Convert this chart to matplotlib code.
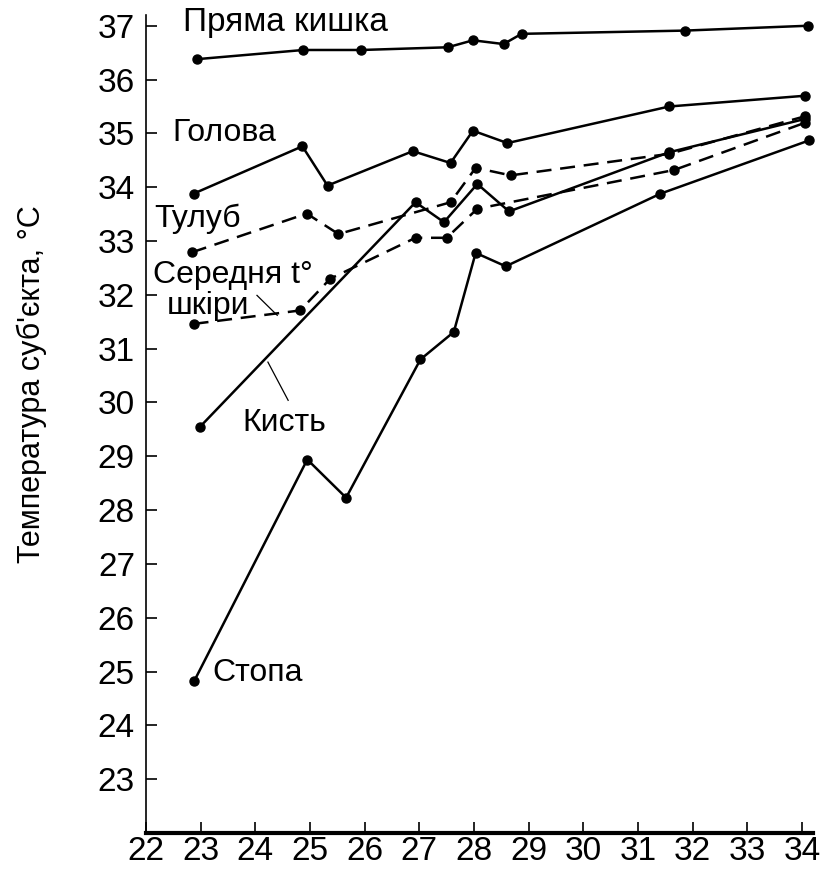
import matplotlib
matplotlib.use("Agg")
import matplotlib.pyplot as plt

plt.rcParams['font.family'] = ['Liberation Sans', 'DejaVu Sans']

# Values (ambient temperature, °C -> body temperature, °C)
rectum_x = [22.94, 24.88, 25.94, 27.52, 27.98, 28.54, 28.87, 31.85, 34.10]
rectum_y = [36.38, 36.55, 36.55, 36.60, 36.73, 36.66, 36.85, 36.91, 37.00]

head_x = [22.87, 24.86, 25.32, 26.88, 27.57, 27.98, 28.61, 31.57, 34.06]
head_y = [33.88, 34.76, 34.03, 34.67, 34.45, 35.05, 34.82, 35.50, 35.70]

trunk_x = [22.84, 24.94, 25.52, 27.57, 28.03, 28.67, 31.57, 34.06]
trunk_y = [32.79, 33.51, 33.13, 33.72, 34.36, 34.22, 34.62, 35.32]

skin_x = [22.87, 24.82, 25.37, 26.93, 27.50, 28.06, 31.66, 34.06]
skin_y = [31.46, 31.71, 32.30, 33.06, 33.06, 33.60, 34.32, 35.20]

hand_x = [22.99, 26.93, 27.45, 28.06, 28.64, 31.57, 34.06]
hand_y = [29.55, 33.72, 33.35, 34.06, 33.55, 34.65, 35.27]

foot_x = [22.88, 24.95, 25.66, 27.02, 27.63, 28.03, 28.58, 31.41, 34.13]
foot_y = [24.82, 28.94, 28.23, 30.80, 31.31, 32.78, 32.53, 33.88, 34.87]

x_ticks = list(range(22, 35))
y_ticks = list(range(23, 38))

fig = plt.figure(figsize=(8.21, 8.75), dpi=100)
ax = fig.add_axes([146 / 821, 42 / 875, (813 - 146) / 821, (833 - 15) / 875])

solid = dict(color='black', lw=1.8, marker='o', ms=6.5, clip_on=False)
dashed = dict(color='black', lw=1.8, marker='o', ms=6.5, clip_on=False,
              linestyle=(0, (6, 3.5)))

ax.plot(rectum_x, rectum_y, **solid)
ax.plot(head_x, head_y, **solid)
ax.plot(trunk_x, trunk_y, **dashed)
ax.plot(skin_x, skin_y, **dashed)
ax.plot(hand_x, hand_y, **solid)
ax.plot(foot_x, foot_y, **solid)

# curve labels
lab = dict(fontsize=23, va='center', ha='left')
ax.text(22.68, 37.06, 'Пряма кишка', fontsize=24, va='center', ha='left')
ax.text(22.49, 35.0, 'Голова', **lab)
ax.text(22.16, 33.42, 'Тулуб', **lab)
ax.text(22.13, 32.36, 'Середня t°', **lab)
ax.text(22.38, 31.80, 'шкіри', **lab)
ax.text(23.76, 29.62, 'Кисть', **lab)
ax.text(23.21, 24.98, 'Стопа', **lab)

# leader lines
ax.plot([24.03, 24.40], [31.99, 31.62], color='black', lw=0.9)
ax.plot([24.23, 24.60], [30.75, 30.04], color='black', lw=0.9)

ax.set_xlim(22, 34.2)
ax.set_ylim(22.0, 37.2)
ax.set_xticks(x_ticks)
ax.set_yticks(y_ticks)
ax.tick_params(axis='both', direction='in', length=8, width=1.2,
               labelsize=24)
ax.tick_params(axis='y', pad=8)
ax.tick_params(axis='x', pad=2)

for side in ['top', 'right']:
    ax.spines[side].set_visible(False)
ax.spines['bottom'].set_linewidth(3)
ax.spines['left'].set_linewidth(1.2)

fig.text(32 / 821, 1 - 384 / 875, 'Температура суб\'єкта, °С',
         rotation=90, fontsize=22, ha='center', va='center')

fig.savefig('out.png', dpi=100)
